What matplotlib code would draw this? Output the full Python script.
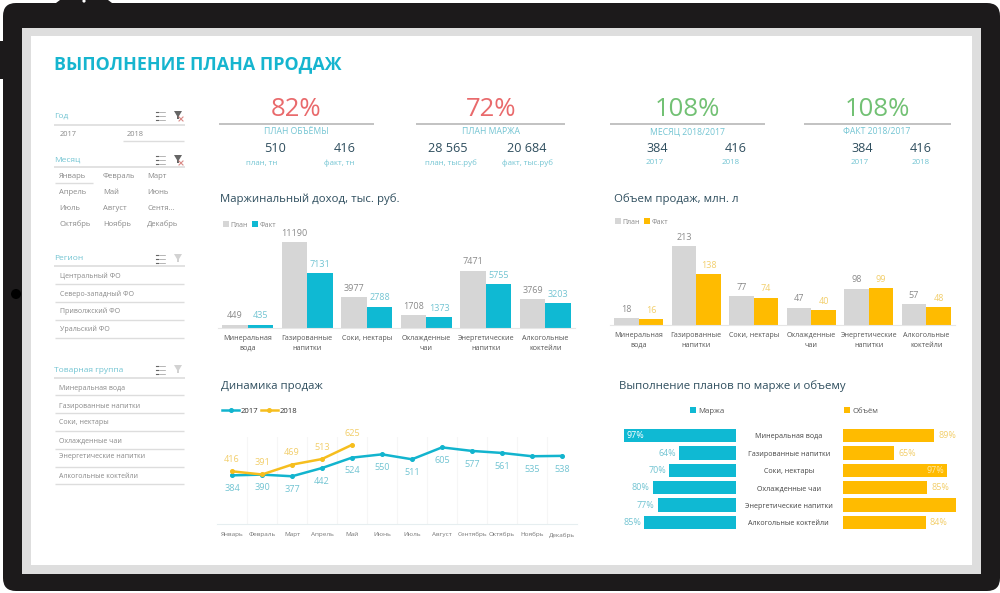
import matplotlib
matplotlib.use("Agg")
import matplotlib.pyplot as plt
from matplotlib.patches import FancyBboxPatch, Rectangle, Circle, Polygon

plt.rcParams['font.family'] = ['Open Sans', 'DejaVu Sans']

W, H = 1000, 593
TEAL = '#0FB9D3'
TEAL_TXT = '#72C4D2'
YEL = '#FFBB00'
YEL_TXT = '#F2CE6A'
GRAY = '#D6D6D6'
GRAY_TXT = '#8A8A8A'
DARK = '#2F4E5E'
RED = '#E96A6C'
GREEN = '#72C174'
LINE = '#DDDDDD'
FRAME = '#1C1A1B'

# ---------- data ----------
cats = ['Минеральная\nвода', 'Газированные\nнапитки', 'Соки, нектары',
        'Охлажденные\nчаи', 'Энергетические\nнапитки', 'Алкогольные\nкоктейли']
cats_flat = ['Минеральная вода', 'Газированные напитки', 'Соки, нектары',
             'Охлажденные чаи', 'Энергетические напитки', 'Алкогольные коктейли']
margin_plan = [449, 11190, 3977, 1708, 7471, 3769]
margin_fact = [435, 7131, 2788, 1373, 5755, 3203]
volume_plan = [18, 213, 77, 47, 98, 57]
volume_fact = [16, 138, 74, 40, 99, 48]
months = ['Январь', 'Февраль', 'Март', 'Апрель', 'Май', 'Июнь', 'Июль', 'Август',
          'Сентябрь', 'Октябрь', 'Ноябрь', 'Декабрь']
sales_2017 = [384, 390, 377, 442, 524, 550, 511, 605, 577, 561, 535, 538]
sales_2018 = [416, 391, 469, 513, 625]
plan_margin = [97, 64, 70, 80, 77, 85]
plan_volume = [89, 65, 97, 85, 102, 84]
plan_volume_labels = ['89%', '65%', '97%', '85%', '', '84%']

kpi_big = ['82%', '72%', '108%', '108%']
kpi_colors = [RED, RED, GREEN, GREEN]
kpi_names = ['ПЛАН ОБЪЁМЫ', 'ПЛАН МАРЖА', 'МЕСЯЦ 2018/2017', 'ФАКТ 2018/2017']
kpi_vals = [('510', '416'), ('28 565', '20 684'), ('384', '416'), ('384', '416')]
kpi_subs = [('план, тн', 'факт, тн'), ('план, тыс.руб', 'факт, тыс.руб'),
            ('2017', '2018'), ('2017', '2018')]
slicer_months = ['Январь', 'Февраль', 'Март', 'Апрель', 'Май', 'Июнь', 'Июль', 'Август',
                 'Сентя...', 'Октябрь', 'Ноябрь', 'Декабрь']
regions = ['Центральный ФО', 'Северо-западный ФО', 'Приволжский ФО', 'Уральский ФО']

fig = plt.figure(figsize=(W / 100, H / 100), dpi=100, facecolor='white')


def axpx(x0, y0, x1, y1, **kw):
    return fig.add_axes([x0 / W, 1 - y1 / H, (x1 - x0) / W, (y1 - y0) / H], **kw)


bg = axpx(0, 0, W, H)
bg.set_xlim(0, W)
bg.set_ylim(H, 0)
bg.axis('off')

# device frame
bg.add_patch(FancyBboxPatch((3, 3), 997, 588, boxstyle='round,pad=0,rounding_size=13', lw=0, fc=FRAME))
bg.add_patch(Polygon([(56, 3), (60, 0), (108, 0), (112, 3)], lw=0, fc=FRAME))
bg.add_patch(Circle((84, 1), 1.6, lw=0, fc='white'))
bg.add_patch(Rectangle((0, 41), 4, 38, lw=0, fc=FRAME))
bg.add_patch(Circle((16, 294), 5, lw=0, fc='black'))
bg.add_patch(Rectangle((22, 28), 959, 546, lw=0, fc='#DEDEDE'))
bg.add_patch(Rectangle((31, 36), 941, 529, lw=0, fc='white'))


def T(x, y, s, size=6, color=GRAY_TXT, ha='left', **kw):
    return bg.text(x, y, s, fontsize=size, color=color, ha=ha, va='center', **kw)


def hl(x0, x1, y, color=LINE, lw=1.0):
    bg.plot([x0, x1], [y, y], color=color, lw=lw, solid_capstyle='butt')


def icons(x, y, active):
    for i in range(3):
        bg.plot([x + 4, x + 10], [y - 4 + i * 4] * 2, color='#999999', lw=0.5)
        bg.plot([x + 0.5, x + 2.5], [y - 4 + i * 4] * 2, color='#666666', lw=0.8)
    fc = '#666666' if active else '#D2D2D2'
    bg.add_patch(Polygon([(x + 19, y - 5), (x + 27, y - 5), (x + 24, y), (x + 24, y + 3), (x + 22, y + 3), (x + 22, y)], lw=0, fc=fc))
    if active:
        bg.plot([x + 24, x + 28], [y + 1, y + 5], color='#D98A86', lw=0.8)
        bg.plot([x + 28, x + 24], [y + 1, y + 5], color='#D98A86', lw=0.8)


T(54, 64, 'ВЫПОЛНЕНИЕ ПЛАНА ПРОДАЖ', size=12.9, color='#16B5CF', fontweight='bold')

# slicers
for name, hy, lw_y, active, sz in [('Год', 116, 125, True, 6), ('Месяц', 160, 167, True, 6),
                                   ('Регион', 259, 266, False, 6), ('Товарная группа', 370, 378, False, 6)]:
    T(54, hy, name, size=sz, color=TEAL_TXT)
    hl(54, 185, lw_y, lw=1.2)
    icons(155, hy, active)
T(60, 134, '2017', size=5.4)
T(127, 134, '2018', size=5.4)
hl(123, 184, 141)
for i, m in enumerate(slicer_months):
    T([59, 103, 147][i % 3], [177, 193, 209, 224][i // 3], m, size=5.5)
hl(55, 93, 183)
for s, y, ly in zip(regions, [276, 294.5, 311, 329], [284, 302, 320, 338]):
    T(60, y, s, size=5.0)
    hl(55, 184, ly)
for s, y, ly in zip(cats_flat, [388, 406, 423, 441, 457, 477], [395, 413, 431, 449, 467, 484]):
    T(59, y, s, size=5.0)
    hl(55, 184, ly)

# KPI
kpi_line = [(219, 374), (416, 565), (610, 765), (804, 951)]
kpi_c = [296, 491, 687, 877]
kpi_vx = [(275, 345), (448, 527), (657, 736), (862, 921)]
kpi_sx = [(262, 339), (451, 527), (655, 731), (860, 921)]
for i in range(4):
    T(kpi_c[i], 110, kpi_big[i], size=18.5, color=kpi_colors[i], ha='center')
    hl(*kpi_line[i], 124, color='#BDBDBD', lw=1.3)
    T(kpi_c[i], 132, kpi_names[i], size=6.2, color=TEAL_TXT, ha='center')
    for j in range(2):
        T(kpi_vx[i][j], 148, kpi_vals[i][j], size=9.1, color=DARK, ha='center')
        T(kpi_sx[i][j], 163, kpi_subs[i][j], size=5.7, color=TEAL_TXT, ha='center')

# chart titles
T(220, 199, 'Маржинальный доход, тыс. руб.', size=8.2, color=DARK)
T(614, 199, 'Объем продаж, млн. л', size=8.2, color=DARK)
T(221, 386, 'Динамика продаж', size=8.2, color=DARK)
T(619, 386, 'Выполнение планов по марже и объему', size=8.2, color=DARK)


def bar_chart(box, plan, fact, ymax, color, txt, legend_xy):
    ax = axpx(*box)
    ax.patch.set_alpha(0)
    xs = list(range(len(plan)))
    w = 0.43
    b1 = ax.bar([x - w / 2 for x in xs], plan, w, color=GRAY, label='План')
    b2 = ax.bar([x + w / 2 for x in xs], fact, w, color=color, label='Факт')
    ax.bar_label(b1, padding=3, fontsize=6.5, color=GRAY_TXT)
    ax.bar_label(b2, padding=3, fontsize=6.5, color=txt)
    ax.set_xlim(-0.5, len(plan) - 0.5)
    ax.set_ylim(0, ymax)
    ax.set_yticks([])
    ax.set_xticks(xs)
    ax.set_xticklabels(cats, fontsize=5.1, color='#555555', linespacing=1.55)
    ax.tick_params(axis='x', length=0, pad=5)
    for k, sp in ax.spines.items():
        sp.set_visible(k == 'bottom')
    ax.spines['bottom'].set_color('#E6E6E6')
    fig.legend(handles=[b1, b2], loc='center left',
               bbox_to_anchor=(legend_xy[0] / W, 1 - legend_xy[1] / H), ncol=2, frameon=False,
               fontsize=5, labelcolor=GRAY_TXT, handlelength=0.8, handleheight=0.8,
               handletextpad=0.3, columnspacing=0.6, borderpad=0, borderaxespad=0)
    return ax


bar_chart((218, 220, 575, 328), margin_plan, margin_fact, 11190 * 108 / 86, TEAL, TEAL_TXT, (223, 225))
bar_chart((610, 222, 955, 325), volume_plan, volume_fact, 213 * 103 / 79, YEL, YEL_TXT, (615, 222))

# line chart
ax = axpx(217, 437, 577, 524)
ax.patch.set_alpha(0)
xs = list(range(12))
l17, = ax.plot(xs, sales_2017, color='#12B4CE', lw=1.8, marker='o', ms=2.6, label='2017')
l18, = ax.plot(xs[:len(sales_2018)], sales_2018, color='#F6BE1E', lw=1.8, marker='o', ms=2.6, label='2018')
for x, v in zip(xs, sales_2017):
    ax.annotate(str(v), (x, v), xytext=(0, -9.5), textcoords='offset points', ha='center', va='center',
                fontsize=6.6, color=TEAL_TXT)
for x, v in zip(xs, sales_2018):
    ax.annotate(str(v), (x, v), xytext=(0, 8.5), textcoords='offset points', ha='center', va='center',
                fontsize=6.6, color=YEL_TXT, annotation_clip=False)
ax.set_xlim(-0.5, 11.5)
ax.set_ylim(0, 687)
ax.set_yticks([])
ax.set_xticks(xs)
ax.set_xticklabels(months, fontsize=4.6, color='#777777')
ax.set_xticks([x + 0.5 for x in xs[:-1]], minor=True)
ax.grid(True, axis='x', which='minor', color='#F6F6F6', lw=0.8)
ax.tick_params(axis='x', which='both', length=0, pad=6)
for k, sp in ax.spines.items():
    sp.set_visible(k == 'bottom')
ax.spines['bottom'].set_color('#E6EEF0')
fig.legend(handles=[l17, l18], loc='center left', bbox_to_anchor=(222 / W, 1 - 411 / H), ncol=2, frameon=False,
           fontsize=5.6, labelcolor='#333333', handlelength=2.2, handletextpad=0.2, columnspacing=0.3,
           borderpad=0, borderaxespad=0)

# butterfly
left = axpx(620, 427, 736, 531)
left.patch.set_alpha(0)
ys = list(range(6))
bl = left.barh(ys, plan_margin, 0.77, left=0, color=TEAL, label='Маржа')
left.set_xlim(30 + 116 / 1.67, 30)
left.set_ylim(5.5, -0.5)
for y, v in zip(ys, plan_margin):
    inside = v > 90
    left.annotate(f'{v}%', (v, y), xytext=(2 if inside else -2, 0), textcoords='offset points',
                  ha='left' if inside else 'right', va='center', fontsize=6.4,
                  color='white' if inside else TEAL_TXT, annotation_clip=False)
left.set_xticks([])
left.set_yticks(ys)
left.set_yticklabels(cats_flat, fontsize=5.1, color='#444444', ha='center')
left.yaxis.tick_right()
left.tick_params(axis='y', length=0, pad=38)
for sp in left.spines.values():
    sp.set_visible(False)

right = axpx(843, 427, 960, 531)
right.patch.set_alpha(0)
br = right.barh(ys, plan_volume, 0.77, color=YEL, label='Объём')
right.set_xlim(34, 34 + 117 / 1.656)
right.set_ylim(5.5, -0.5)
for y, v, s in zip(ys, plan_volume, plan_volume_labels):
    inside = v > 90
    right.annotate(s, (v, y), xytext=(-2 if inside else 3, 0), textcoords='offset points',
                   ha='right' if inside else 'left', va='center', fontsize=6.4,
                   color='#FFE9A8' if inside else YEL_TXT, annotation_clip=False)
right.axis('off')

for h, x in [(bl, 690), (br, 844)]:
    fig.legend(handles=[h], loc='center left', bbox_to_anchor=(x / W, 1 - 411 / H), frameon=False,
               fontsize=5.6, labelcolor='#555555', handlelength=0.8, handleheight=0.8, handletextpad=0.3,
               borderpad=0, borderaxespad=0)

fig.savefig('out.png', dpi=100, facecolor='white')
